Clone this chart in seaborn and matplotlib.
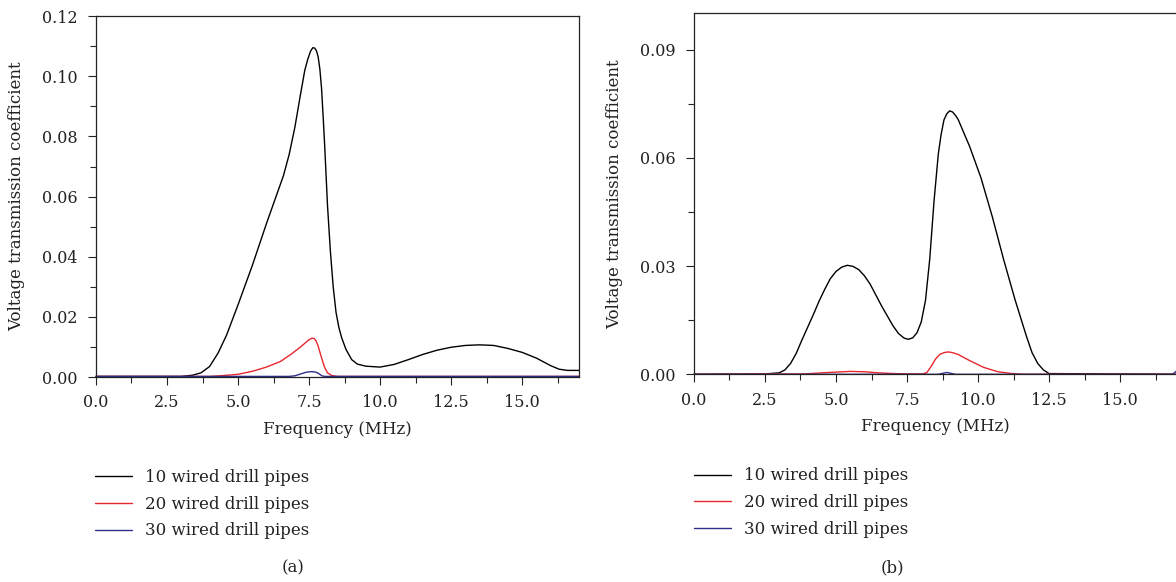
#!/usr/bin/env python3
"""Voltage transmission coefficient vs frequency for wired drill pipe strings."""

import matplotlib

matplotlib.use("Agg")
import matplotlib.pyplot as plt
import pandas as pd
import seaborn as sns
from matplotlib.ticker import MultipleLocator

SERIES = ["10 wired drill pipes", "20 wired drill pipes", "30 wired drill pipes"]
COLORS = ["#000000", "#e8262e", "#2e2e8c"]

# panel (a)
A_10_F = [0, 3.0, 3.4, 3.7, 4.0, 4.3, 4.6, 5.0, 5.5, 6.0, 6.3, 6.6, 6.8, 7.0, 7.2,
          7.35, 7.45, 7.55, 7.63, 7.7, 7.76, 7.82, 7.88, 7.94, 8.0, 8.05, 8.1,
          8.15, 8.25, 8.35, 8.45, 8.55, 8.65, 8.8, 9.0, 9.2, 9.5, 10.0, 10.5,
          11.0, 11.5, 12.0, 12.5, 13.0, 13.5, 14.0, 14.5, 15.0, 15.5, 16.0, 16.3,
          16.6, 17.0]
A_10_V = [0.0002, 0.0002, 0.0006, 0.0014, 0.0035, 0.008, 0.014, 0.024, 0.037,
          0.051, 0.059, 0.067, 0.074, 0.083, 0.094, 0.102, 0.1055, 0.1083, 0.1095,
          0.1094, 0.1085, 0.1065, 0.1025, 0.096, 0.086, 0.077, 0.067, 0.057,
          0.042, 0.030, 0.0215, 0.0165, 0.013, 0.0092, 0.0058, 0.0043, 0.0036,
          0.0033, 0.0042, 0.0058, 0.0075, 0.0089, 0.0099, 0.0105, 0.0107, 0.0105,
          0.0095, 0.0082, 0.0063, 0.0038, 0.0026, 0.0022, 0.0022]
A_20_F = [0, 4.0, 4.5, 5.0, 5.5, 6.0, 6.5, 6.9, 7.2, 7.4, 7.5, 7.6, 7.68, 7.75,
          7.82, 7.9, 7.98, 8.05, 8.15, 8.3, 8.5, 8.7, 17.0]
A_20_V = [0.0002, 0.0002, 0.0005, 0.0009, 0.0019, 0.0033, 0.0052, 0.0078, 0.0100,
          0.0116, 0.0124, 0.0129, 0.0128, 0.0120, 0.0103, 0.0077, 0.0052, 0.0032,
          0.0014, 0.0005, 0.0002, 0.0002, 0.0002]
A_30_F = [0, 6.8, 7.0, 7.2, 7.4, 7.6, 7.75, 7.85, 7.95, 8.05, 17.0]
A_30_V = [0.0002, 0.0002, 0.0004, 0.0010, 0.0016, 0.0018, 0.0016, 0.0011, 0.0004,
          0.0002, 0.0002]

# panel (b)
B_10_F = [0, 2.5, 3.0, 3.2, 3.4, 3.6, 3.8, 4.0, 4.2, 4.4, 4.6, 4.8, 5.0, 5.2, 5.4,
          5.6, 5.8, 6.0, 6.2, 6.6, 7.0, 7.2, 7.4, 7.55, 7.7, 7.85, 8.0, 8.15,
          8.3, 8.45, 8.6, 8.7, 8.8, 8.9, 9.0, 9.1, 9.2, 9.3, 9.7, 10.1, 10.5,
          10.9, 11.3, 11.7, 11.9, 12.1, 12.3, 12.5, 17.0]
B_10_V = [0.0, 0.0001, 0.0004, 0.0012, 0.0030, 0.0058, 0.0095, 0.013, 0.0165,
          0.0202, 0.0235, 0.0265, 0.0285, 0.0297, 0.0302, 0.0299, 0.029, 0.0273,
          0.025, 0.019, 0.0135, 0.0113, 0.0100, 0.0097, 0.0101, 0.0115, 0.0145,
          0.0205, 0.032, 0.048, 0.061, 0.0665, 0.0705, 0.0722, 0.073, 0.0727,
          0.0718, 0.0706, 0.0632, 0.0545, 0.0437, 0.0318, 0.0207, 0.0106, 0.0060,
          0.0030, 0.0012, 0.0002, 0.0]
B_20_F = [0, 3.9, 4.5, 5.0, 5.5, 6.0, 6.5, 7.0, 7.5, 8.05, 8.2, 8.35, 8.5, 8.65,
          8.8, 8.95, 9.1, 9.3, 9.7, 10.2, 10.7, 11.2, 11.6, 17.0]
B_20_V = [0.0, 0.0001, 0.0004, 0.0006, 0.0008, 0.0007, 0.0004, 0.0002, 0.0001,
          0.0001, 0.0005, 0.0022, 0.0042, 0.0055, 0.0060, 0.0062, 0.0060, 0.0055,
          0.0038, 0.0019, 0.0007, 0.0002, 0.0, 0.0]
B_30_F = [0, 8.6, 8.9, 9.2, 16.85, 17.0]
B_30_V = [0.0, 0.0, 0.0005, 0.0, 0.0, 0.001]


def long_frame(pairs):
    rows = []
    for name, (f, v) in zip(SERIES, pairs):
        rows.append(pd.DataFrame({"freq": f, "coef": v, "series": name}))
    return pd.concat(rows, ignore_index=True)


def draw(ax, df, ymax, ymajor):
    sns.lineplot(data=df, x="freq", y="coef", hue="series", hue_order=SERIES,
                 palette=COLORS, estimator=None, sort=False, linewidth=1.0,
                 ax=ax, legend=True)
    for ln in ax.get_lines():
        ln.set_clip_on(False)
    ax.set_xlim(0, 17)
    ax.set_ylim(0, ymax)
    ax.xaxis.set_major_locator(MultipleLocator(2.5))
    ax.xaxis.set_minor_locator(MultipleLocator(1.25))
    ax.yaxis.set_major_locator(MultipleLocator(ymajor))
    ax.yaxis.set_minor_locator(MultipleLocator(ymajor / 2))
    ax.yaxis.set_major_formatter(plt.FormatStrFormatter("%.2f"))
    ax.xaxis.set_major_formatter(plt.FormatStrFormatter("%.1f"))
    ax.tick_params(which="major", length=6, width=0.8, labelsize=11.5,
                   colors="#222222")
    ax.tick_params(axis="x", which="major", pad=6.5)
    ax.tick_params(axis="y", which="major", pad=7)
    ax.tick_params(which="minor", length=4, width=0.8)
    for sp in ax.spines.values():
        sp.set_visible(True)
        sp.set_linewidth(0.9)
        sp.set_color("#222222")
    ax.set_xlabel("Frequency (MHz)", fontsize=12, labelpad=7)
    ax.set_ylabel("Voltage transmission coefficient", fontsize=12, labelpad=12)
    handles, labels = ax.get_legend_handles_labels()
    ax.get_legend().remove()
    return handles, labels


sns.set_style("ticks")
plt.rcParams["font.family"] = ["DejaVu Serif"]
plt.rcParams["text.color"] = "#222222"
plt.rcParams["axes.labelcolor"] = "#222222"

fig = plt.figure(figsize=(11.76, 5.82), dpi=100)
ax_a = fig.add_axes([0.0816, 0.3522, 0.4107, 0.620])
ax_b = fig.add_axes([0.5901, 0.3569, 0.4107, 0.620])

df_a = long_frame([(A_10_F, A_10_V), (A_20_F, A_20_V), (A_30_F, A_30_V)])
df_b = long_frame([(B_10_F, B_10_V), (B_20_F, B_20_V), (B_30_F, B_30_V)])

h_a, l_a = draw(ax_a, df_a, 0.12, 0.02)
h_b, l_b = draw(ax_b, df_b, 0.10, 0.03)

for handles, labels, x0, y0 in [(h_a, l_a, 0.0808, 0.194), (h_b, l_b, 0.590, 0.197)]:
    fig.legend(handles, labels, loc="upper left", bbox_to_anchor=(x0, y0),
               frameon=False, fontsize=12, handlelength=2.2, handletextpad=0.8,
               labelspacing=0.58, borderpad=0, borderaxespad=0)

fig.text(0.249, 0.024, "(a)", ha="center", va="center", fontsize=12)
fig.text(0.759, 0.024, "(b)", ha="center", va="center", fontsize=12)

fig.savefig("out.png", dpi=100)
